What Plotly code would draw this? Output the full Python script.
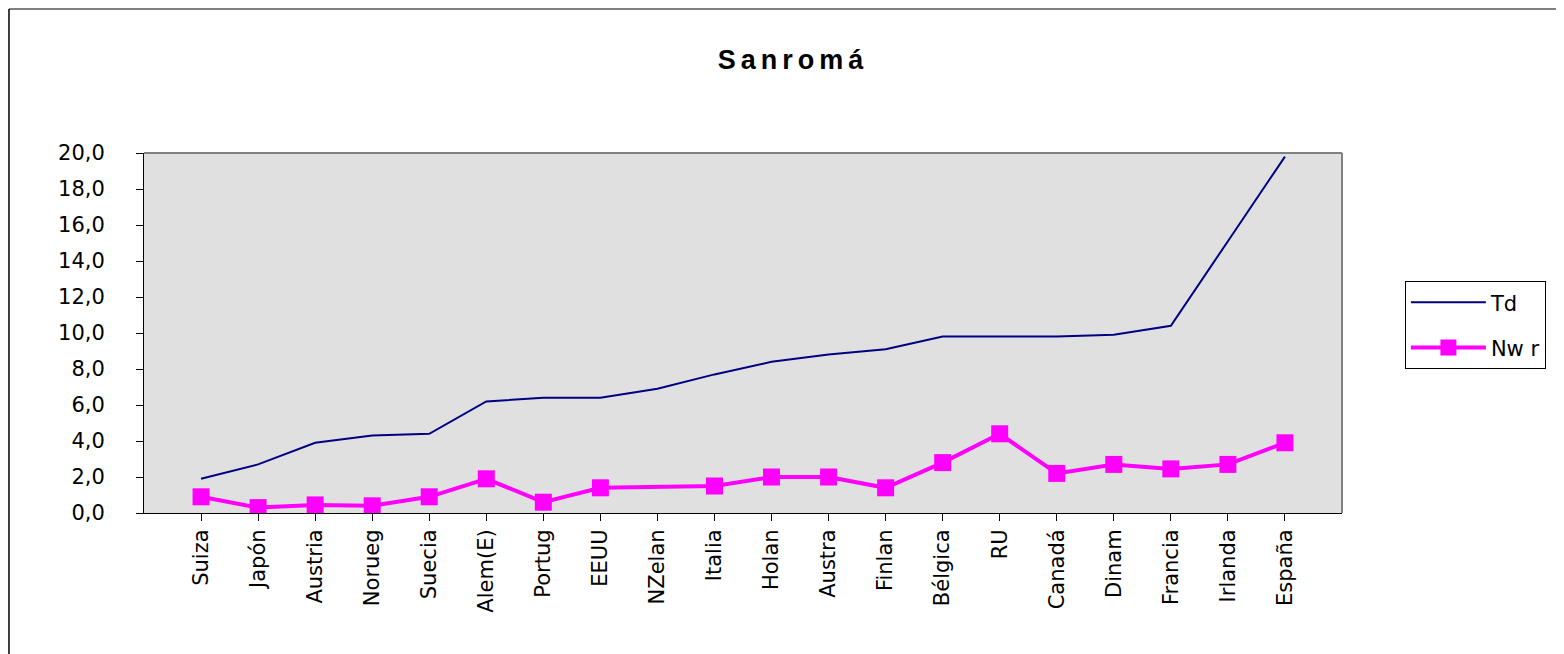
import plotly.graph_objects as go

categories = ["Suiza", "Japón", "Austria", "Norueg", "Suecia", "Alem(E)", "Portug",
              "EEUU", "NZelan", "Italia", "Holan", "Austra", "Finlan", "Bélgica",
              "RU", "Canadá", "Dinam", "Francia", "Irlanda", "España"]
td = [1.9, 2.7, 3.9, 4.3, 4.4, 6.2, 6.4, 6.4, 6.9, 7.7, 8.4, 8.8, 9.1, 9.8,
      9.8, 9.8, 9.9, 10.4, 15.1, 19.8]
nwr = [0.9, 0.3, 0.45, 0.4, 0.9, 1.9, 0.6, 1.4, None, 1.5, 2.0, 2.0, 1.4, 2.8,
       4.4, 2.2, 2.7, 2.45, 2.7, 3.9]
yticks = [0, 2, 4, 6, 8, 10, 12, 14, 16, 18, 20]

FONT = "Liberation Sans, Arial, sans-serif"
TFONT = "DejaVu Sans, sans-serif"

fig = go.Figure()
fig.add_trace(go.Scatter(
    x=categories, y=td, name="Td", mode="lines",
    line=dict(color="#000080", width=2), legendgroup="a"))
fig.add_trace(go.Scatter(
    x=categories, y=nwr, name="Nw r", mode="lines+markers", connectgaps=True,
    line=dict(color="#FF00FF", width=4),
    marker=dict(symbol="square", size=17, color="#FF00FF"), legendgroup="b"))

fig.update_layout(
    width=1564, height=654,
    margin=dict(l=136, r=230, t=145, b=149),
    paper_bgcolor="white", plot_bgcolor="#E0E0E0",
    separators=",.",
    font=dict(family=TFONT, size=21, color="black"),
    title=dict(text='<b><span style="letter-spacing:5px">Sanromá</span></b>',
               x=0.5417, xref="paper", xanchor="center",
               y=1 - 52 / 654, yref="container", yanchor="middle",
               font=dict(family=FONT, size=27, color="black")),
    showlegend=True,
    legend=dict(x=1.0525, y=0.644, xanchor="left", yanchor="top",
                bordercolor="black", borderwidth=1, bgcolor="white",
                font=dict(family=TFONT, size=21), tracegroupgap=15,
                itemwidth=75, traceorder="grouped"),
    xaxis=dict(type="category", range=[-1, 20], showgrid=False,
               ticks="outside", ticklen=7, tickcolor="black", tickangle=-90,
               showline=True, linecolor="black", linewidth=1,
               tickfont=dict(family=TFONT, size=21)),
    yaxis=dict(range=[0, 20], tickvals=yticks, tickformat=".1f", showgrid=False,
               ticks="outside", ticklen=7, tickcolor="black",
               showline=True, linecolor="black", linewidth=1,
               ticklabelstandoff=27,
               zeroline=False, tickfont=dict(family=TFONT, size=21)),
    shapes=[
        dict(type="line", xref="paper", yref="paper", x0=0, x1=1, y0=1, y1=1,
             line=dict(color="#808080", width=2)),
        dict(type="line", xref="paper", yref="paper", x0=1, x1=1, y0=0, y1=1,
             line=dict(color="#808080", width=2)),
        dict(type="line", xref="paper", yref="paper", x0=-0.1127, x1=1.2,
             y0=1.4, y1=1.4, line=dict(color="#808080", width=2)),
        dict(type="line", xref="paper", yref="paper", x0=-0.1127, x1=-0.1127,
             y0=-0.42, y1=1.4, line=dict(color="black", width=1.5)),
    ],
)

fig.write_html("out.html")
